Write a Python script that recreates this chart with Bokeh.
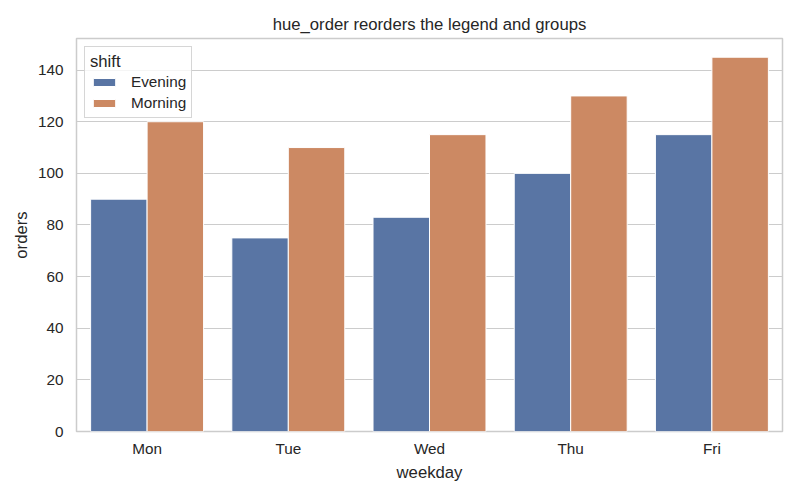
from bokeh.plotting import figure
from bokeh.models import ColumnDataSource, Range1d, FixedTicker, Legend, LegendItem
from bokeh.transform import dodge
from bokeh.embed import file_html
from bokeh.resources import INLINE

# data
days = ["Mon", "Tue", "Wed", "Thu", "Fri"]
evening = [90, 75, 83, 100, 115]
morning = [120, 110, 115, 130, 145]
shift_order = ["Evening", "Morning"]
y_ticks = [0, 20, 40, 60, 80, 100, 120, 140]

FONT = "Liberation Sans"
GRID = "#cccccc"
TEXT = "#262626"

src = ColumnDataSource(data=dict(x=list(range(len(days))), evening=evening, morning=morning))

p = figure(width=784, height=484, output_backend="svg", toolbar_location=None,
           x_range=Range1d(-0.5, len(days) - 0.5), y_range=Range1d(0, max(morning) * 1.05),
           min_border_left=76, min_border_right=2, min_border_top=38, min_border_bottom=51)

p.title.text = "hue_order reorders the legend and groups"
p.title.align = "center"
p.title.text_font = FONT
p.title.text_font_size = "16.7px"
p.title.text_font_style = "normal"
p.title.text_color = TEXT

r_eve = p.vbar(x=dodge("x", -0.2, range=p.x_range), top="evening", width=0.4, source=src,
               fill_color="#5975a4", line_color="white", line_width=1)
r_mor = p.vbar(x=dodge("x", 0.2, range=p.x_range), top="morning", width=0.4, source=src,
               fill_color="#cc8963", line_color="white", line_width=1)

p.xaxis.ticker = FixedTicker(ticks=list(range(len(days))))
p.xaxis.major_label_overrides = {i: d for i, d in enumerate(days)}
p.yaxis.ticker = FixedTicker(ticks=y_ticks)
p.xaxis.axis_label = "weekday"
p.yaxis.axis_label = "orders"

for ax in (p.xaxis, p.yaxis):
    ax.axis_line_color = None
    ax.major_tick_line_color = None
    ax.minor_tick_line_color = None
    ax.major_tick_out = 0
    ax.major_tick_in = 0
    ax.minor_tick_out = 0
    ax.major_label_text_font = FONT
    ax.major_label_text_font_size = "15.3px"
    ax.major_label_text_color = TEXT
    ax.major_label_text_line_height = 1.0
    ax.axis_label_text_font = FONT
    ax.axis_label_text_font_size = "16.7px"
    ax.axis_label_text_font_style = "normal"
    ax.axis_label_text_color = TEXT
    ax.axis_label_text_line_height = 1.0

p.xaxis.major_label_standoff = 8
p.xaxis.axis_label_standoff = 3
p.yaxis.major_label_standoff = 13
p.yaxis.axis_label_standoff = 4

p.xgrid.grid_line_color = None
p.ygrid.grid_line_color = GRID
p.ygrid.grid_line_width = 1

p.outline_line_color = GRID
p.outline_line_width = 1.5

legend = Legend(items=[LegendItem(label=shift_order[0], renderers=[r_eve]),
                       LegendItem(label=shift_order[1], renderers=[r_mor])],
                location="top_left", title="shift")
legend.title_text_font = FONT
legend.title_text_font_size = "16.7px"
legend.title_text_font_style = "normal"
legend.title_text_color = TEXT
legend.title_standoff = 1
legend.label_text_font = FONT
legend.label_text_font_size = "15.3px"
legend.label_text_color = TEXT
legend.glyph_width = 28
legend.glyph_height = 10
legend.label_standoff = 13
legend.spacing = 3
legend.padding = 5
legend.margin = 8
legend.border_line_color = GRID
legend.border_line_alpha = 0.8
legend.background_fill_alpha = 0.8
p.add_layout(legend)

open("out.html", "w").write(file_html(p, INLINE))
